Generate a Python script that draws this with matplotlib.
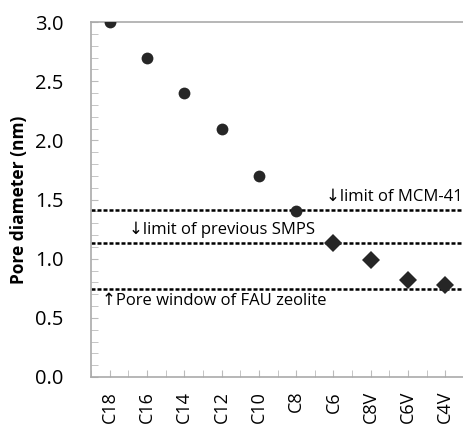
import matplotlib
matplotlib.use("Agg")
import matplotlib.pyplot as plt
from matplotlib.ticker import MultipleLocator

categories = ["C18", "C16", "C14", "C12", "C10", "C8", "C6", "C8V", "C6V", "C4V"]
diameter = [3.0, 2.7, 2.4, 2.1, 1.7, 1.4, 1.13, 0.99, 0.82, 0.78]
marker_kind = ["o", "o", "o", "o", "o", "o", "D", "D", "D", "D"]
limit_values = [1.41, 1.135, 0.74]
limit_labels = ["\u2193limit of MCM-41", "\u2193limit of previous SMPS", "\u2191Pore window of FAU zeolite"]

plt.rcParams['font.family'] = ['Open Sans', 'DejaVu Sans']

fig = plt.figure(figsize=(4.64, 4.24), dpi=100)
ax = fig.add_axes([91/464, 1-377/424, 373/464, 355/424])

x = list(range(len(categories)))
for xi, yi, m in zip(x, diameter, marker_kind):
    ax.plot(xi, yi, marker=m, color="#262626", markersize=8.5 if m == "o" else 9,
            markeredgewidth=0, linestyle="none", zorder=3)

for v in limit_values:
    ax.axhline(v, color="black", linestyle=(0, (1.6, 0.8)), linewidth=1.8, zorder=2)

ax.text(9.45, limit_values[0] + 0.04, limit_labels[0], ha="right", va="bottom", fontsize=12)
ax.text(0.53, limit_values[1] + 0.04, limit_labels[1], ha="left", va="bottom", fontsize=12)
ax.text(-0.2, limit_values[2] - 0.03, limit_labels[2], ha="left", va="top", fontsize=12)

ax.set_xlim(-0.5, 9.5)
ax.set_ylim(0, 3.0)
ax.set_xticks(x)
ax.set_xticklabels(categories, rotation=90, fontsize=13)
ax.xaxis.set_minor_locator(MultipleLocator(0.5))
ax.yaxis.set_major_locator(MultipleLocator(0.5))
ax.yaxis.set_minor_locator(MultipleLocator(0.1))
ax.set_yticklabels([f"{t:.1f}" for t in ax.get_yticks()], fontsize=14.5)
ax.tick_params(axis="y", which="both", direction="in", length=5, color="#bbbbbb", pad=20)
ax.tick_params(axis="x", which="both", direction="in", length=5, color="#bbbbbb", pad=10)
ax.set_ylabel("Pore diameter (nm)", fontsize=12.5, fontweight="bold", labelpad=5)

for s in ["left", "bottom", "top", "right"]:
    ax.spines[s].set_color("#aaaaaa")
    ax.spines[s].set_linewidth(1.2)

fig.savefig("out.png", dpi=100)
